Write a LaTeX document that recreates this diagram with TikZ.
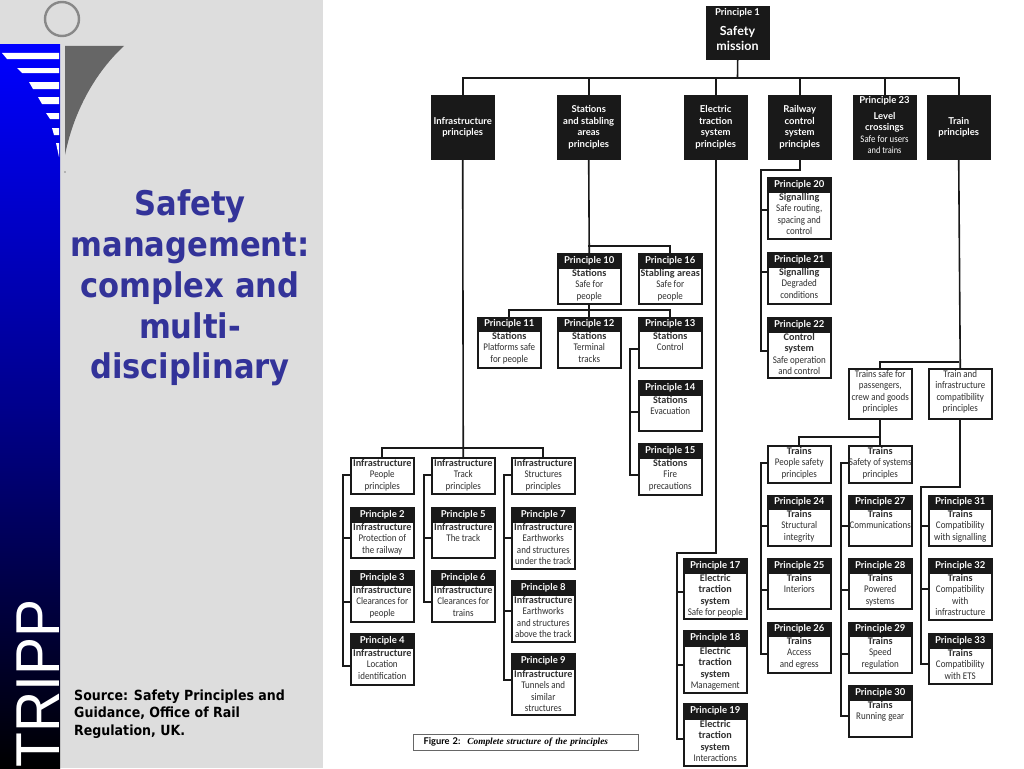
\documentclass[tikz,border=0pt]{standalone}
\usepackage{fontspec}
\setmainfont{Lato}
\newfontfamily\titlefont{DejaVu Sans Condensed}
\newfontfamily\capfont{Liberation Serif}
\newfontfamily\logofont{Liberation Sans}
\newfontfamily\bodyfont[FakeStretch=0.88,BoldFeatures={FakeStretch=1}]{Carlito}
\definecolor{panel}{HTML}{DDDDDD}
\definecolor{titleblue}{HTML}{333399}
\definecolor{fin}{HTML}{666666}
\definecolor{ring}{HTML}{888888}
\definecolor{boxtext}{HTML}{303030}
\tikzset{
  conn/.style={line width=1.6pt,draw=black!90,line cap=rect,line join=miter},
  frame/.style={draw=black!90,line width=1.5pt,fill=white,minimum width=#1,inner sep=0pt,anchor=north west},
  head/.style={fill=black!90,draw=black!90,line width=1.5pt,minimum width=#1,inner sep=0pt,anchor=north west,text=white,font=\fontsize{9.5}{11}\selectfont\bfseries},
  inbox/.style={anchor=north,inner sep=0pt,align=center,text=boxtext,font=\bodyfont\fontsize{10.2}{11.4}\selectfont},
  blackbox/.style={fill=black!90,draw=black!90,minimum width=#1,inner sep=0pt,anchor=north west},
  blacktext/.style={inner sep=0pt,align=center,text=white,font=\fontsize{9.5}{11.4}\selectfont\bfseries}
}
% name, x, top, head bottom, bottom, number, lines
\newcommand\pbox[7]{%
  \node[head=63pt,minimum height=#4pt-#3pt] (#1h) at (#2,#3) {Principle #6};
  \node[frame=63pt,minimum height=#5pt-#4pt] (#1) at (#2,#4) {};
  \node[inbox] (#1t) at (#1.north) {\rule{0pt}{9pt}#7};
}
% name, x, top, bottom, lines
\newcommand\plainbox[5]{%
  \node[frame=63pt,minimum height=#4pt-#3pt] (#1) at (#2,#3) {};
  \node[inbox] (#1t) at (#1.north) {\rule{0pt}{9pt}#5};
}
% name, x, lines
\newcommand\topbox[3]{%
  \node[blackbox=63pt,minimum height=64pt,blacktext,anchor=north west] (#1) at (#2,95) {#3};
}
\newcommand\stub[3]{%
  \coordinate (st-#1) at (#2,#3);
  \draw[conn] (st-#1) -- (st-#1 -| #1.west);
}
\begin{document}
\begin{tikzpicture}[x=1pt,y=-1pt]
\useasboundingbox (0,0) rectangle (1024,768);
\fill[white] (0,0) rectangle (1024,768);
\fill[panel] (0,0) rectangle (323,768);
% logo
\shade[top color=blue,bottom color=black,middle color=blue!55!black] (0,45) rectangle (60,768);
\draw[ring,line width=2.4pt] (62,19) circle (17);
\fill[fin] (65,46) -- (124,46) .. controls (100,68) and (75,105) .. (65,155) -- cycle;
\fill[ring] (65,172) circle (0.8);
\fill[white] (2,53) -- (59,53) -- (59,59) -- (7,59) -- cycle;
\fill[white] (17,68) -- (59,68) -- (59,73) -- (22,73) -- cycle;
\fill[white] (29,82) -- (59,82) -- (59,89) -- (33,89) -- cycle;
\fill[white] (38,97) -- (59,97) -- (59,104) -- (42,104) -- cycle;
\fill[white] (46,113) -- (59,113) -- (59,119) -- (50,119) -- cycle;
\fill[white] (52,128) -- (59,128) -- (59,135) -- (54,135) -- cycle;
\fill[white] (56,143) -- (59,143) -- (59,157) -- cycle;
\node[rotate=90,inner sep=0pt,anchor=south west,text=white,font=\logofont\fontsize{62}{62}\selectfont] (logo) at (60,768) {\scalebox{0.92}[1]{TRIPP}};
% title + source
\node[align=center,text=titleblue,inner sep=0pt,font=\titlefont\bfseries\fontsize{34}{40.8}\selectfont] (title) at (190,288) {Safety\\management:\\complex and\\multi-\\disciplinary};
\node[align=left,anchor=north west,inner sep=0pt,font=\titlefont\bfseries\fontsize{14}{17.5}\selectfont] (source) at (74,689.5) {Source: Safety Principles and\\Guidance, Office of Rail\\Regulation, UK.};
% figure caption
\node[draw=black!60,line width=1pt,anchor=north west,minimum width=225pt,minimum height=16pt,inner sep=0pt,text width=205pt,align=left,font=\fontsize{9.3}{11}\selectfont] (cap) at (413,734) {\textbf{Figure 2:}\hspace{7pt}{\capfont\bfseries\itshape Complete structure of the principles}};
% top level
\node[blackbox=63pt,minimum height=53pt] (p1) at (706,6) {};
\node[blacktext,font=\fontsize{9.5}{11}\selectfont\bfseries,anchor=center] (p1a) at (737.5,12.5) {Principle 1};
\node[blacktext,font=\fontsize{12.5}{14.5}\selectfont\bfseries,anchor=center] (p1b) at (737.5,38.5) {Safety\\mission};
\topbox{infra}{431}{Infrastructure\\principles}
\topbox{stations}{557}{Stations\\and stabling\\areas\\principles}
\topbox{electric}{684}{Electric\\traction\\system\\principles}
\topbox{railway}{768}{Railway\\control\\system\\principles}
\node[blackbox=63pt,minimum height=64pt] (p23) at (853,95) {};
\node[blacktext,anchor=center] (p23a) at (884.5,100.5) {Principle 23};
\node[blacktext,anchor=north,font=\fontsize{9.5}{11.4}\selectfont] (p23b) at (884.5,112) {\textbf{Level}\\\textbf{crossings}\\\bodyfont\fontsize{10}{11.4}\selectfont\mdseries Safe for users\\\bodyfont\mdseries and trains};
\topbox{train}{927}{Train\\principles}
% infrastructure column
\plainbox{ipeople}{350}{457}{493}{\textbf{Infrastructure}\\People\\principles}
\plainbox{itrack}{431}{457}{493}{\textbf{Infrastructure}\\Track\\principles}
\plainbox{istruct}{511}{457}{493}{\textbf{Infrastructure}\\Structures\\principles}
\pbox{p2}{350}{507}{521}{557}{2}{\textbf{Infrastructure}\\Protection of\\the railway}
\pbox{p3}{350}{570}{584}{621}{3}{\textbf{Infrastructure}\\Clearances for\\people}
\pbox{p4}{350}{633}{647}{684}{4}{\textbf{Infrastructure}\\Location\\identification}
\pbox{p5}{431}{507}{521}{557}{5}{\textbf{Infrastructure}\\The track}
\pbox{p6}{431}{570}{584}{621}{6}{\textbf{Infrastructure}\\Clearances for\\trains}
\pbox{p7}{511}{507}{521}{568}{7}{\textbf{Infrastructure}\\Earthworks\\and structures\\under the track}
\pbox{p8}{511}{580}{594}{641}{8}{\textbf{Infrastructure}\\Earthworks\\and structures\\above the track}
\pbox{p9}{511}{653}{668}{714}{9}{\textbf{Infrastructure}\\Tunnels and\\similar\\structures}
% stations column
\pbox{p10}{557}{253}{267}{303}{10}{\textbf{Stations}\\Safe for\\people}
\pbox{p16}{638}{253}{267}{303}{16}{\textbf{Stabling areas}\\Safe for\\people}
\pbox{p11}{477}{317}{330}{367}{11}{\textbf{Stations}\\Platforms safe\\for people}
\pbox{p12}{557}{317}{330}{367}{12}{\textbf{Stations}\\Terminal\\tracks}
\pbox{p13}{638}{317}{330}{367}{13}{\textbf{Stations}\\Control}
\pbox{p14}{638}{380}{394}{430}{14}{\textbf{Stations}\\Evacuation}
\pbox{p15}{638}{443}{457}{494}{15}{\textbf{Stations}\\Fire\\precautions}
% electric column
\pbox{p17}{683}{558}{572}{618}{17}{\textbf{Electric}\\\textbf{traction}\\\textbf{system}\\Safe for people}
\pbox{p18}{683}{630}{645}{692}{18}{\textbf{Electric}\\\textbf{traction}\\\textbf{system}\\Management}
\pbox{p19}{683}{703}{718}{765}{19}{\textbf{Electric}\\\textbf{traction}\\\textbf{system}\\Interactions}
% railway column
\pbox{p20}{767}{177}{191}{238}{20}{\textbf{Signalling}\\Safe routing,\\spacing and\\control}
\pbox{p21}{767}{252}{266}{303}{21}{\textbf{Signalling}\\Degraded\\conditions}
\pbox{p22}{767}{317}{331}{377}{22}{\textbf{Control}\\\textbf{system}\\Safe operation\\and control}
% trains column
\plainbox{tsafe}{848}{368}{418}{Trains safe for\\passengers,\\crew and goods\\principles}
\plainbox{tcomp}{928}{368}{418}{Train and\\infrastructure\\compatibility\\principles}
\plainbox{tpeople}{767}{445}{482}{\textbf{Trains}\\People safety\\principles}
\plainbox{tsys}{848}{445}{482}{\textbf{Trains}\\Safety of systems\\principles}
\pbox{p24}{767}{495}{508}{545}{24}{\textbf{Trains}\\Structural\\integrity}
\pbox{p25}{767}{558}{572}{608}{25}{\textbf{Trains}\\Interiors}
\pbox{p26}{767}{622}{635}{672}{26}{\textbf{Trains}\\Access\\and egress}
\pbox{p27}{848}{495}{508}{545}{27}{\textbf{Trains}\\Communications}
\pbox{p28}{848}{558}{572}{608}{28}{\textbf{Trains}\\Powered\\systems}
\pbox{p29}{848}{622}{635}{672}{29}{\textbf{Trains}\\Speed\\regulation}
\pbox{p30}{848}{685}{699}{736}{30}{\textbf{Trains}\\Running gear}
\pbox{p31}{928}{495}{508}{545}{31}{\textbf{Trains}\\Compatibility\\with signalling}
\pbox{p32}{928}{558}{572}{619}{32}{\textbf{Trains}\\Compatibility\\with\\infrastructure}
\pbox{p33}{928}{633}{647}{683}{33}{\textbf{Trains}\\Compatibility\\with ETS}
% connectors
\coordinate (mainbus) at (737.5,78);
\draw[conn] (p1.south) -- (mainbus);
\foreach \n in {infra,stations,electric,railway,p23,train} {\draw[conn] (\n.north) |- (mainbus);}
% infrastructure
\coordinate (ibus) at (462.5,448);
\draw[conn] (infra.south) -- (itrack.north);
\draw[conn] (ipeople.north) |- (ibus);
\draw[conn] (istruct.north) |- (ibus);
\stub{ipeople}{343}{475}\stub{p2}{343}{538}\stub{p3}{343}{602}\stub{p4}{343}{666}
\draw[conn] (st-ipeople) -- (st-p4);
\stub{itrack}{424}{475}\stub{p5}{424}{538}\stub{p6}{424}{602}
\draw[conn] (st-itrack) -- (st-p6);
\stub{istruct}{504}{475}\stub{p7}{504}{538}\stub{p8}{504}{611}\stub{p9}{504}{680}
\draw[conn] (st-istruct) -- (st-p9);
% stations
\coordinate (sbus) at (588.5,246);
\coordinate (sbus2) at (588.5,310);
\draw[conn] (stations.south) -- (p10h.north);
\draw[conn] (p16h.north) |- (sbus);
\draw[conn] (p10.south) -- (p12h.north);
\draw[conn] (p11h.north) |- (sbus2);
\draw[conn] (p13h.north) |- (sbus2);
\stub{p13}{630}{349}\stub{p14}{630}{412}\stub{p15}{630}{475}
\draw[conn] (st-p13) -- (st-p15);
% electric
\coordinate (eelbow) at (677,553);
\draw[conn] (electric.south) |- (eelbow);
\stub{p17}{677}{592}\stub{p18}{677}{665}\stub{p19}{677}{739}
\draw[conn] (eelbow) -- (st-p19);
% railway
\coordinate (relbow) at (761,170);
\draw[conn] (railway.south) |- (relbow);
\stub{p20}{761}{210}\stub{p21}{761}{272}\stub{p22}{761}{351}
\draw[conn] (relbow) -- (st-p22);
% trains
\coordinate (tbus) at (958.5,362);
\coordinate (tbus2) at (879.5,437);
\coordinate (celbow) at (921,487);
\draw[conn] (train.south) -- (tcomp.north);
\draw[conn] (tsafe.north) |- (tbus);
\draw[conn] (tsafe.south) -- (tsys.north);
\draw[conn] (tpeople.north) |- (tbus2);
\stub{tpeople}{761}{463}\stub{p24}{761}{526}\stub{p25}{761}{590}\stub{p26}{761}{654}
\draw[conn] (st-tpeople) -- (st-p26);
\stub{tsys}{841}{463}\stub{p27}{841}{526}\stub{p28}{841}{590}\stub{p29}{841}{654}\stub{p30}{841}{716}
\draw[conn] (st-tsys) -- (st-p30);
\draw[conn] (tcomp.south) |- (celbow);
\stub{p31}{921}{526}\stub{p32}{921}{589}\stub{p33}{921}{664}
\draw[conn] (celbow) -- (st-p33);
\end{tikzpicture}
\end{document}
